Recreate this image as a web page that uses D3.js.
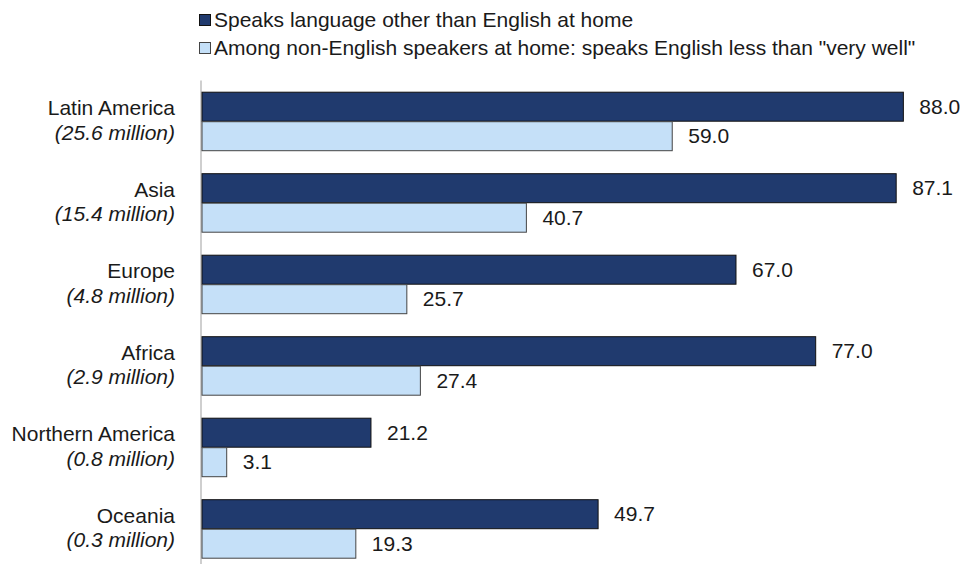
<!DOCTYPE html>
<html>
<head>
<meta charset="utf-8">
<script src="https://cdn.jsdelivr.net/npm/d3@7"></script>
<style>
  html, body { margin: 0; padding: 0; background: #ffffff; }
  svg { display: block; font-family: "Liberation Sans", Arial, sans-serif; }
</style>
</head>
<body>
<svg id="chart" width="964" height="564"></svg>
<script>
// Regions of birth and their foreign-born population
const regions = ["Latin America", "Asia", "Europe", "Africa", "Northern America", "Oceania"];
const populations = ["(25.6 million)", "(15.4 million)", "(4.8 million)", "(2.9 million)", "(0.8 million)", "(0.3 million)"];

// Percent values for each series
const seriesNames = [
  "Speaks language other than English at home",
  "Among non-English speakers at home: speaks English less than \"very well\""
];
const otherLanguage = [88.0, 87.1, 67.0, 77.0, 21.2, 49.7];
const lessThanVeryWell = [59.0, 40.7, 25.7, 27.4, 3.1, 19.3];

const seriesColors = ["#203A6E", "#C5E0F8"];
const seriesStrokes = ["#111111", "#444444"];

const svg = d3.select("#chart");
const fontSize = 21;
const textColor = "#1a1a1a";

const x = d3.scaleLinear().domain([0, 95]).range([202, 202 + 95 * 7.97]);
const y = d3.scaleBand().domain(regions).range([80.45, 569.45])
  .paddingInner(0.276).paddingOuter(0.138);
const ySub = d3.scaleBand().domain([0, 1]).range([0, y.bandwidth()]).padding(0);

const rows = regions.map((r, i) => ({
  region: r,
  pop: populations[i],
  values: [otherLanguage[i], lessThanVeryWell[i]]
}));

// Vertical baseline axis
svg.append("line")
  .attr("x1", 201).attr("x2", 201)
  .attr("y1", y.range()[0]).attr("y2", y.range()[1])
  .attr("stroke", "#cfcfcf").attr("stroke-width", 2);

const groups = svg.selectAll("g.region")
  .data(rows)
  .join("g")
  .attr("class", "region")
  .attr("transform", d => `translate(0,${y(d.region)})`);

groups.selectAll("rect")
  .data(d => d.values.map((v, k) => ({ v, k })))
  .join("rect")
  .attr("x", x(0))
  .attr("y", d => ySub(d.k) + 0.5)
  .attr("width", d => x(d.v) - x(0))
  .attr("height", ySub.bandwidth() - 0.5)
  .attr("fill", d => seriesColors[d.k])
  .attr("stroke", d => seriesStrokes[d.k])
  .attr("stroke-width", 1);

groups.selectAll("text.value")
  .data(d => d.values.map((v, k) => ({ v, k })))
  .join("text")
  .attr("class", "value")
  .attr("x", d => x(d.v) + 16)
  .attr("y", d => ySub(d.k) + ySub.bandwidth() / 2 + 7.5)
  .attr("font-size", fontSize)
  .attr("fill", textColor)
  .text(d => d.v.toFixed(1));

// Category labels with population on a second italic line
const labels = groups.append("text")
  .attr("text-anchor", "end")
  .attr("font-size", fontSize)
  .attr("fill", textColor);
labels.append("tspan")
  .attr("x", 175)
  .attr("y", y.bandwidth() / 2 - 6)
  .text(d => d.region);
labels.append("tspan")
  .attr("x", 175)
  .attr("y", y.bandwidth() / 2 + 18.5)
  .attr("font-style", "italic")
  .text(d => d.pop);

// Legend
const legend = svg.selectAll("g.legend")
  .data(seriesNames)
  .join("g")
  .attr("class", "legend")
  .attr("transform", (d, i) => `translate(199,${14 + i * 28})`);
legend.append("rect")
  .attr("x", 0.5).attr("y", 0.5)
  .attr("width", 11).attr("height", 11)
  .attr("fill", (d, i) => seriesColors[i])
  .attr("stroke", (d, i) => seriesStrokes[i])
  .attr("stroke-width", 1);
legend.append("text")
  .attr("x", 15)
  .attr("y", 12.5)
  .attr("font-size", fontSize)
  .attr("fill", textColor)
  .text(d => d);
</script>
</body>
</html>
